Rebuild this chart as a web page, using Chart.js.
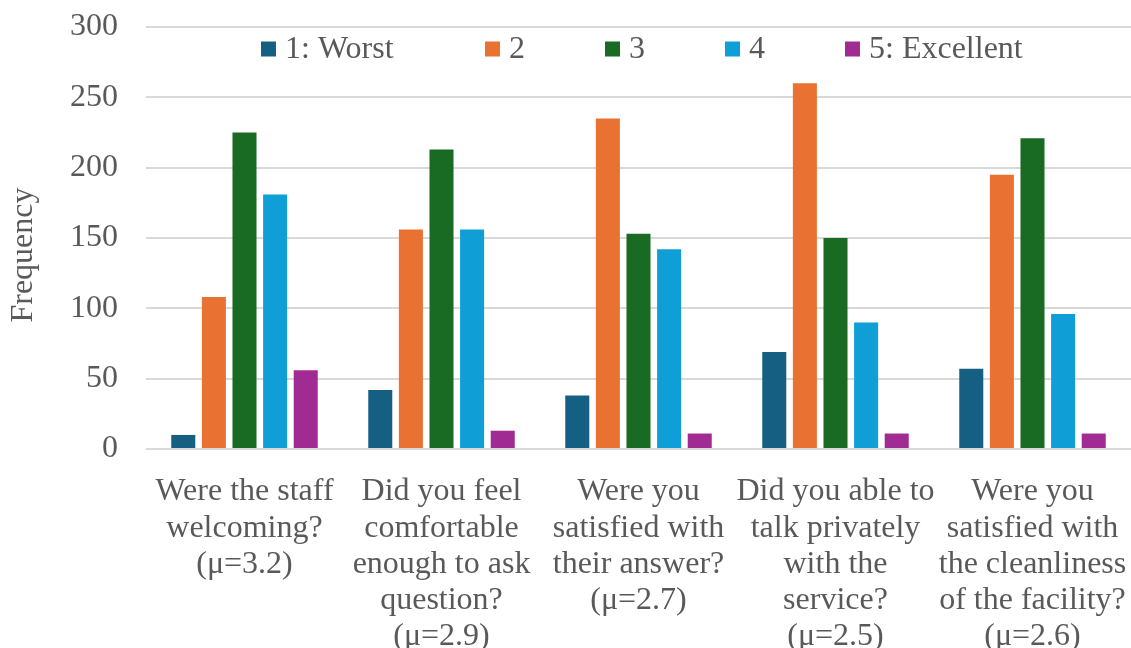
<!DOCTYPE html>
<html>
<head>
<meta charset="utf-8">
<script src="https://cdn.jsdelivr.net/npm/chart.js@4.4.1/dist/chart.umd.min.js"></script>
<style>
  html, body { margin: 0; padding: 0; background: #ffffff; }
  #wrap { width: 1131px; height: 648px; position: relative; }
</style>
</head>
<body>
<div id="wrap"><canvas id="chart" width="1131" height="648"></canvas></div>
<script>
// Survey questions (multi-line axis labels)
const questions = [
  ["Were the staff", "welcoming?", "(\u03bc=3.2)"],
  ["Did you feel", "comfortable", "enough to ask", "question?", "(\u03bc=2.9)"],
  ["Were you", "satisfied with", "their answer?", "(\u03bc=2.7)"],
  ["Did you able to", "talk privately", "with the", "service?", "(\u03bc=2.5)"],
  ["Were you", "satisfied with", "the cleanliness", "of the facility?", "(\u03bc=2.6)"]
];

// Rating labels
const ratingLabels = ["1: Worst", "2", "3", "4", "5: Excellent"];

// Response counts per rating, one value per question
const rating1 = [10, 42, 38, 69, 57];
const rating2 = [108, 156, 235, 260, 195];
const rating3 = [225, 213, 153, 150, 221];
const rating4 = [181, 156, 142, 90, 96];
const rating5 = [56, 13, 11, 11, 11];

// Y axis tick values
const yTicks = [0, 50, 100, 150, 200, 250, 300];

const seriesValues = [rating1, rating2, rating3, rating4, rating5];
const seriesColors = ["#156082", "#E97132", "#196B24", "#0F9ED5", "#A02B93"];

const FONT = "'Liberation Serif', 'Times New Roman', serif";
const TEXT = "#595959";
const FS = 32;

// Legend inside the plot area plus the rotated axis title
const overlay = {
  id: "overlay",
  afterDraw(chart) {
    const ctx = chart.ctx;
    ctx.save();
    ctx.font = FS + "px " + FONT;
    ctx.fillStyle = TEXT;
    ctx.textBaseline = "middle";
    // legend entries
    const legendY = 49;
    const box = 15;
    const starts = [261, 485, 605, 725, 845];
    chart.data.datasets.forEach((ds, i) => {
      const x = starts[i];
      ctx.fillStyle = ds.backgroundColor;
      ctx.fillRect(x, legendY - box / 2, box, box);
      ctx.fillStyle = TEXT;
      ctx.textAlign = "left";
      ctx.fillText(ds.label, x + box + 9, legendY + 1);
    });
    // y axis title
    ctx.translate(24, 255);
    ctx.rotate(-Math.PI / 2);
    ctx.textAlign = "center";
    ctx.fillText("Frequency", 0, 0);
    ctx.restore();
  }
};

// keep the plot area edges independent of label overflow
function noScalePadding(scale) {
  scale.paddingTop = 0;
  scale.paddingBottom = 0;
  scale.paddingLeft = 0;
  scale.paddingRight = 0;
}

new Chart(document.getElementById("chart"), {
  type: "bar",
  data: {
    labels: questions,
    datasets: ratingLabels.map((lab, i) => ({
      label: lab,
      data: seriesValues[i],
      backgroundColor: seriesColors[i],
      borderWidth: 0,
      categoryPercentage: 0.777,
      barPercentage: 0.785
    }))
  },
  options: {
    responsive: false,
    animation: false,
    layout: { padding: { top: 27, right: 0, left: 0, bottom: 0 } },
    plugins: {
      legend: { display: false },
      tooltip: { enabled: false }
    },
    scales: {
      x: {
        grid: { display: false },
        border: { display: false },
        ticks: {
          color: TEXT,
          font: { family: FONT, size: FS, lineHeight: 1.13 },
          maxRotation: 0,
          minRotation: 0,
          autoSkip: false,
          padding: 17
        },
        afterFit(scale) { scale.height = 199; noScalePadding(scale); }
      },
      y: {
        min: 0,
        max: 300,
        afterBuildTicks(scale) { scale.ticks = yTicks.map(v => ({ value: v })); },
        grid: { color: "#D9D9D9", lineWidth: 2, drawTicks: false },
        border: { display: false },
        ticks: {
          color: TEXT,
          font: { family: FONT, size: FS },
          padding: 28
        },
        afterFit(scale) { scale.width = 146; noScalePadding(scale); }
      }
    }
  },
  plugins: [overlay]
});
</script>
</body>
</html>
